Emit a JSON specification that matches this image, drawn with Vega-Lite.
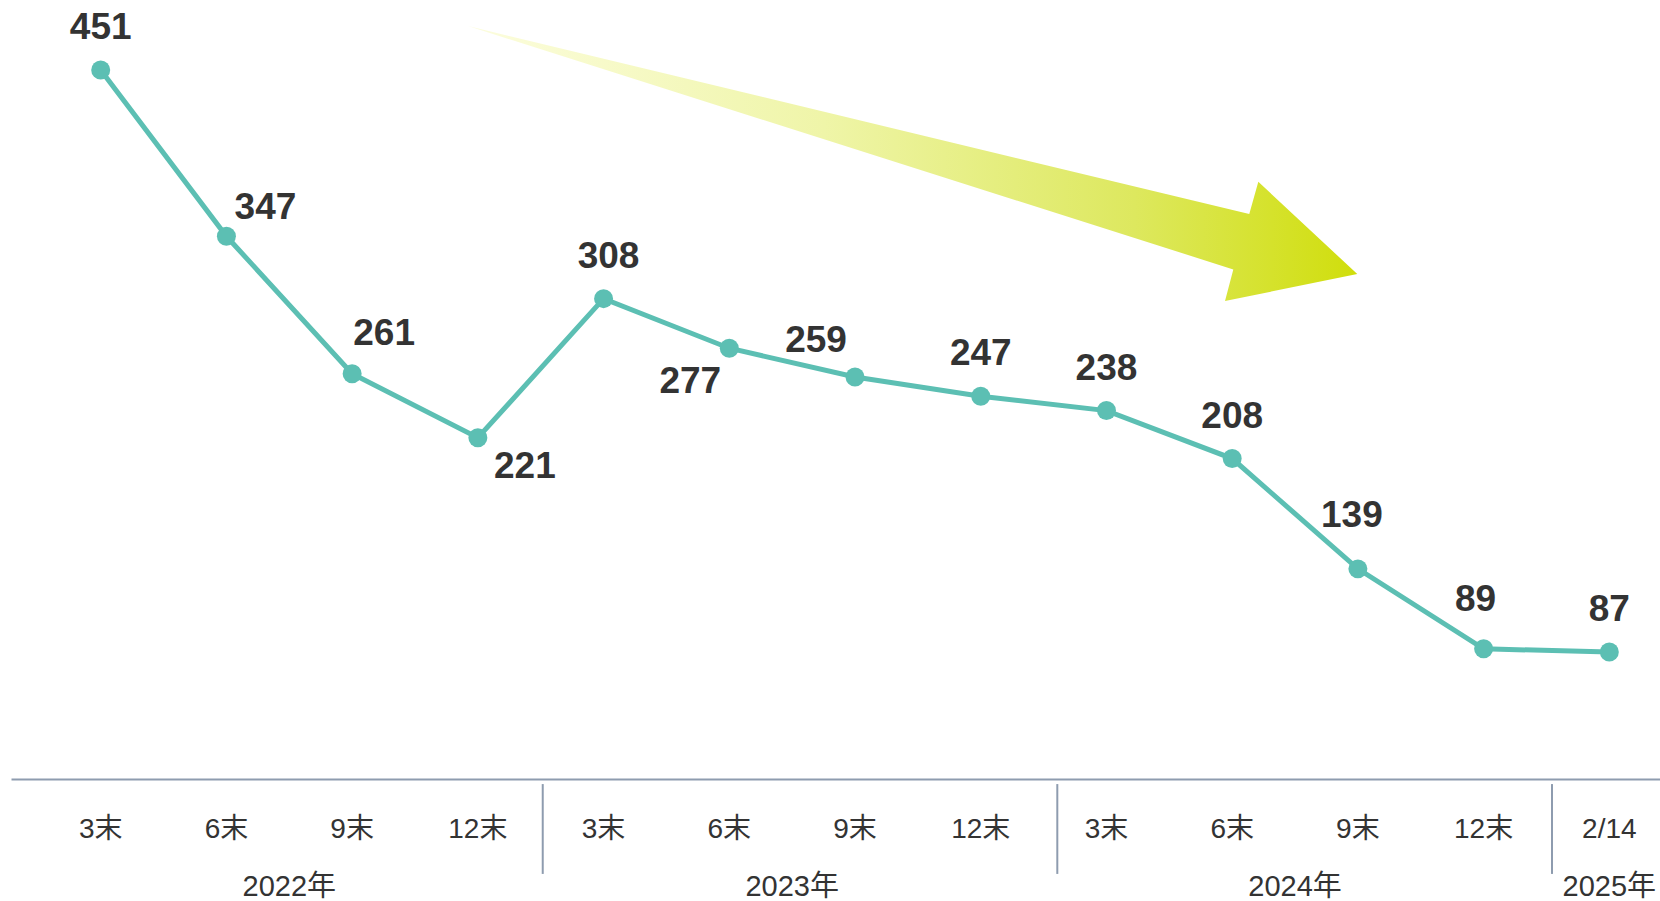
{
  "$schema": "https://vega.github.io/schema/vega-lite/v6.json",
  "width": 1649,
  "height": 779,
  "autosize": {"type": "none"},
  "padding": {"left": 11, "top": 0, "right": 0, "bottom": 122},
  "background": "white",
  "config": {"view": {"stroke": null}},
  "datasets": {
    "series": [
      {"i": 0, "year": "2022年", "m": "3末", "v": 451},
      {"i": 1, "year": "2022年", "m": "6末", "v": 347},
      {"i": 2, "year": "2022年", "m": "9末", "v": 261},
      {"i": 3, "year": "2022年", "m": "12末", "v": 221},
      {"i": 4, "year": "2023年", "m": "3末", "v": 308},
      {"i": 5, "year": "2023年", "m": "6末", "v": 277},
      {"i": 6, "year": "2023年", "m": "9末", "v": 259},
      {"i": 7, "year": "2023年", "m": "12末", "v": 247},
      {"i": 8, "year": "2024年", "m": "3末", "v": 238},
      {"i": 9, "year": "2024年", "m": "6末", "v": 208},
      {"i": 10, "year": "2024年", "m": "9末", "v": 139},
      {"i": 11, "year": "2024年", "m": "12末", "v": 89},
      {"i": 12, "year": "2025年", "m": "2/14", "v": 87}
    ],
    "years": [
      {"c": 1.5, "year": "2022年"},
      {"c": 5.5, "year": "2023年"},
      {"c": 9.5, "year": "2024年"},
      {"c": 12, "year": "2025年"}
    ],
    "seps": [{"s": 3.516}, {"s": 7.609}, {"s": 11.544}],
    "arrow": [
      {"o": 1, "ai": 2.922, "av": 478.5},
      {"o": 2, "ai": 9.136, "av": 360.9},
      {"o": 3, "ai": 9.208, "av": 381.1},
      {"o": 4, "ai": 9.995, "av": 323.4},
      {"o": 5, "ai": 8.943, "av": 306.5},
      {"o": 6, "ai": 9.009, "av": 326.3}
    ]
  },
  "layer": [
    {
      "data": {"name": "series"},
      "mark": {"type": "line", "color": "#5cbfb3", "strokeWidth": 5},
      "encoding": {
        "x": {"field": "i", "type": "quantitative", "scale": {"domain": [-0.7135, 12.403], "nice": false, "zero": false},
          "axis": {"labels": false, "ticks": false, "grid": false, "title": null, "domainColor": "#8e9caf", "domainWidth": 2}},
        "y": {"field": "v", "type": "quantitative", "scale": {"domain": [7.57, 494.8], "nice": false, "zero": false}, "axis": null}
      }
    },
    {
      "data": {"name": "arrow"},
      "mark": {
        "type": "line",
        "interpolate": "linear-closed",
        "strokeOpacity": 0,
        "fill": {
          "gradient": "linear",
          "x1": 0, "y1": 0, "x2": 1, "y2": 0,
          "stops": [
            {"offset": 0, "color": "#fcfdde"},
            {"offset": 0.4, "color": "#eff5a8"},
            {"offset": 0.75, "color": "#dde85e"},
            {"offset": 1, "color": "#d0de0c"}
          ]
        }
      },
      "encoding": {
        "x": {"field": "ai", "type": "quantitative", "scale": {"domain": [-0.7135, 12.403], "nice": false, "zero": false},
          "axis": {"labels": false, "ticks": false, "grid": false, "title": null, "domainColor": "#8e9caf", "domainWidth": 2}},
        "y": {"field": "av", "type": "quantitative", "scale": {"domain": [7.57, 494.8], "nice": false, "zero": false}, "axis": null},
        "order": {"field": "o"}
      }
    },
    {
      "data": {"name": "series"},
      "mark": {"type": "circle", "color": "#5cbfb3", "opacity": 1, "size": 360},
      "encoding": {
        "x": {"field": "i", "type": "quantitative", "scale": {"domain": [-0.7135, 12.403], "nice": false, "zero": false},
          "axis": {"labels": false, "ticks": false, "grid": false, "title": null, "domainColor": "#8e9caf", "domainWidth": 2}},
        "y": {"field": "v", "type": "quantitative", "scale": {"domain": [7.57, 494.8], "nice": false, "zero": false}, "axis": null}
      }
    },
    {
      "data": {"name": "series"},
      "transform": [{"filter": {"field": "i", "oneOf": [0, 7, 8, 9, 12]}}],
      "mark": {"type": "text", "font": "Liberation Sans", "fontWeight": "bold", "fontSize": 37, "color": "#333333", "align": "center", "baseline": "middle", "dy": -42},
      "encoding": {
        "x": {"field": "i", "type": "quantitative", "scale": {"domain": [-0.7135, 12.403], "nice": false, "zero": false},
          "axis": {"labels": false, "ticks": false, "grid": false, "title": null, "domainColor": "#8e9caf", "domainWidth": 2}},
        "y": {"field": "v", "type": "quantitative", "scale": {"domain": [7.57, 494.8], "nice": false, "zero": false}, "axis": null},
        "text": {"field": "v"}
      }
    },
    {
      "data": {"name": "series"},
      "transform": [{"filter": {"field": "i", "equal": 4}}],
      "mark": {"type": "text", "font": "Liberation Sans", "fontWeight": "bold", "fontSize": 37, "color": "#333333", "align": "center", "baseline": "middle", "dx": 5, "dy": -42},
      "encoding": {
        "x": {"field": "i", "type": "quantitative", "scale": {"domain": [-0.7135, 12.403], "nice": false, "zero": false},
          "axis": {"labels": false, "ticks": false, "grid": false, "title": null, "domainColor": "#8e9caf", "domainWidth": 2}},
        "y": {"field": "v", "type": "quantitative", "scale": {"domain": [7.57, 494.8], "nice": false, "zero": false}, "axis": null},
        "text": {"field": "v"}
      }
    },
    {
      "data": {"name": "series"},
      "transform": [{"filter": {"field": "i", "equal": 1}}],
      "mark": {"type": "text", "font": "Liberation Sans", "fontWeight": "bold", "fontSize": 37, "color": "#333333", "align": "center", "baseline": "middle", "dx": 39, "dy": -28},
      "encoding": {
        "x": {"field": "i", "type": "quantitative", "scale": {"domain": [-0.7135, 12.403], "nice": false, "zero": false},
          "axis": {"labels": false, "ticks": false, "grid": false, "title": null, "domainColor": "#8e9caf", "domainWidth": 2}},
        "y": {"field": "v", "type": "quantitative", "scale": {"domain": [7.57, 494.8], "nice": false, "zero": false}, "axis": null},
        "text": {"field": "v"}
      }
    },
    {
      "data": {"name": "series"},
      "transform": [{"filter": {"field": "i", "equal": 2}}],
      "mark": {"type": "text", "font": "Liberation Sans", "fontWeight": "bold", "fontSize": 37, "color": "#333333", "align": "center", "baseline": "middle", "dx": 32, "dy": -40},
      "encoding": {
        "x": {"field": "i", "type": "quantitative", "scale": {"domain": [-0.7135, 12.403], "nice": false, "zero": false},
          "axis": {"labels": false, "ticks": false, "grid": false, "title": null, "domainColor": "#8e9caf", "domainWidth": 2}},
        "y": {"field": "v", "type": "quantitative", "scale": {"domain": [7.57, 494.8], "nice": false, "zero": false}, "axis": null},
        "text": {"field": "v"}
      }
    },
    {
      "data": {"name": "series"},
      "transform": [{"filter": {"field": "i", "equal": 3}}],
      "mark": {"type": "text", "font": "Liberation Sans", "fontWeight": "bold", "fontSize": 37, "color": "#333333", "align": "center", "baseline": "middle", "dx": 47, "dy": 29},
      "encoding": {
        "x": {"field": "i", "type": "quantitative", "scale": {"domain": [-0.7135, 12.403], "nice": false, "zero": false},
          "axis": {"labels": false, "ticks": false, "grid": false, "title": null, "domainColor": "#8e9caf", "domainWidth": 2}},
        "y": {"field": "v", "type": "quantitative", "scale": {"domain": [7.57, 494.8], "nice": false, "zero": false}, "axis": null},
        "text": {"field": "v"}
      }
    },
    {
      "data": {"name": "series"},
      "transform": [{"filter": {"field": "i", "equal": 5}}],
      "mark": {"type": "text", "font": "Liberation Sans", "fontWeight": "bold", "fontSize": 37, "color": "#333333", "align": "center", "baseline": "middle", "dx": -39, "dy": 34},
      "encoding": {
        "x": {"field": "i", "type": "quantitative", "scale": {"domain": [-0.7135, 12.403], "nice": false, "zero": false},
          "axis": {"labels": false, "ticks": false, "grid": false, "title": null, "domainColor": "#8e9caf", "domainWidth": 2}},
        "y": {"field": "v", "type": "quantitative", "scale": {"domain": [7.57, 494.8], "nice": false, "zero": false}, "axis": null},
        "text": {"field": "v"}
      }
    },
    {
      "data": {"name": "series"},
      "transform": [{"filter": {"field": "i", "equal": 6}}],
      "mark": {"type": "text", "font": "Liberation Sans", "fontWeight": "bold", "fontSize": 37, "color": "#333333", "align": "center", "baseline": "middle", "dx": -39, "dy": -36},
      "encoding": {
        "x": {"field": "i", "type": "quantitative", "scale": {"domain": [-0.7135, 12.403], "nice": false, "zero": false},
          "axis": {"labels": false, "ticks": false, "grid": false, "title": null, "domainColor": "#8e9caf", "domainWidth": 2}},
        "y": {"field": "v", "type": "quantitative", "scale": {"domain": [7.57, 494.8], "nice": false, "zero": false}, "axis": null},
        "text": {"field": "v"}
      }
    },
    {
      "data": {"name": "series"},
      "transform": [{"filter": {"field": "i", "equal": 10}}],
      "mark": {"type": "text", "font": "Liberation Sans", "fontWeight": "bold", "fontSize": 37, "color": "#333333", "align": "center", "baseline": "middle", "dx": -6, "dy": -53},
      "encoding": {
        "x": {"field": "i", "type": "quantitative", "scale": {"domain": [-0.7135, 12.403], "nice": false, "zero": false},
          "axis": {"labels": false, "ticks": false, "grid": false, "title": null, "domainColor": "#8e9caf", "domainWidth": 2}},
        "y": {"field": "v", "type": "quantitative", "scale": {"domain": [7.57, 494.8], "nice": false, "zero": false}, "axis": null},
        "text": {"field": "v"}
      }
    },
    {
      "data": {"name": "series"},
      "transform": [{"filter": {"field": "i", "equal": 11}}],
      "mark": {"type": "text", "font": "Liberation Sans", "fontWeight": "bold", "fontSize": 37, "color": "#333333", "align": "center", "baseline": "middle", "dx": -8, "dy": -49},
      "encoding": {
        "x": {"field": "i", "type": "quantitative", "scale": {"domain": [-0.7135, 12.403], "nice": false, "zero": false},
          "axis": {"labels": false, "ticks": false, "grid": false, "title": null, "domainColor": "#8e9caf", "domainWidth": 2}},
        "y": {"field": "v", "type": "quantitative", "scale": {"domain": [7.57, 494.8], "nice": false, "zero": false}, "axis": null},
        "text": {"field": "v"}
      }
    },
    {
      "data": {"name": "series"},
      "mark": {"type": "text", "font": "Liberation Sans, Noto Sans CJK JP", "fontSize": 28, "color": "#333333", "align": "center", "baseline": "middle"},
      "encoding": {
        "x": {"field": "i", "type": "quantitative", "scale": {"domain": [-0.7135, 12.403], "nice": false, "zero": false},
          "axis": {"labels": false, "ticks": false, "grid": false, "title": null, "domainColor": "#8e9caf", "domainWidth": 2}},
        "y": {"datum": -24.6, "type": "quantitative", "scale": {"domain": [7.57, 494.8], "nice": false, "zero": false}, "axis": null},
        "text": {"field": "m"}
      }
    },
    {
      "data": {"name": "years"},
      "mark": {"type": "text", "font": "Liberation Sans, Noto Sans CJK JP", "fontSize": 29, "color": "#333333", "align": "center", "baseline": "middle"},
      "encoding": {
        "x": {"field": "c", "type": "quantitative", "scale": {"domain": [-0.7135, 12.403], "nice": false, "zero": false},
          "axis": {"labels": false, "ticks": false, "grid": false, "title": null, "domainColor": "#8e9caf", "domainWidth": 2}},
        "y": {"datum": -60.2, "type": "quantitative", "scale": {"domain": [7.57, 494.8], "nice": false, "zero": false}, "axis": null},
        "text": {"field": "year"}
      }
    },
    {
      "data": {"name": "seps"},
      "mark": {"type": "rule", "color": "#8e9caf", "strokeWidth": 2},
      "encoding": {
        "x": {"field": "s", "type": "quantitative", "scale": {"domain": [-0.7135, 12.403], "nice": false, "zero": false},
          "axis": {"labels": false, "ticks": false, "grid": false, "title": null, "domainColor": "#8e9caf", "domainWidth": 2}},
        "y": {"datum": 4.4, "type": "quantitative", "scale": {"domain": [7.57, 494.8], "nice": false, "zero": false}, "axis": null},
        "y2": {"datum": -51.8}
      }
    }
  ]
}
